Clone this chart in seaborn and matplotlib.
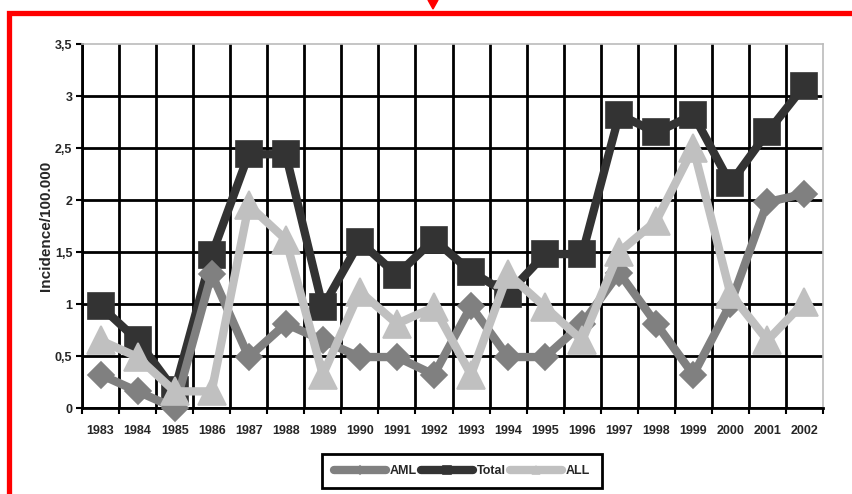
import numpy as np
import pandas as pd
import matplotlib
matplotlib.use("Agg")
import matplotlib.pyplot as plt
import seaborn as sns
from matplotlib.patches import Rectangle, Polygon

# data
years = [str(y) for y in range(1983, 2003)]
aml = [0.32, 0.16, 0.0, 1.29, 0.49, 0.81, 0.65, 0.49, 0.49, 0.32,
       0.98, 0.49, 0.49, 0.81, 1.30, 0.81, 0.32, 1.0, 1.98, 2.06]
total = [0.98, 0.65, 0.17, 1.47, 2.44, 2.44, 0.97, 1.60, 1.28, 1.62,
         1.31, 1.10, 1.48, 1.48, 2.82, 2.65, 2.82, 2.16, 2.65, 3.10]
all_ = [0.65, 0.49, 0.16, 0.16, 1.95, 1.62, 0.32, 1.12, 0.81, 0.97,
        0.32, 1.29, 0.97, 0.65, 1.50, 1.80, 2.50, 1.10, 0.65, 1.02]
y_ticks = [0, 0.5, 1, 1.5, 2, 2.5, 3, 3.5]
y_labels = ["0", "0,5", "1", "1,5", "2", "2,5", "3", "3,5"]

df = pd.DataFrame({"pos": np.arange(len(years)), "AML": aml, "Total": total, "ALL": all_})

sns.set_style("white")
plt.rcParams['font.family'] = ['Liberation Sans', 'DejaVu Sans']
plt.rcParams['font.weight'] = 'bold'

fig = plt.figure(figsize=(8.52, 4.94), dpi=100)
ax = fig.add_axes([82 / 852, 86 / 494, 741 / 852, 364 / 494])

# series: name, colour, marker, marker size, zorder
series = [
    ("Total", "#333333", "s", 18.5, 3),
    ("AML", "#808080", "D", 13.5, 4),
    ("ALL", "#c0c0c0", "^", 19.5, 5),
]
for name, col, mk, ms, z in series:
    sns.lineplot(data=df, x="pos", y=name, ax=ax, color=col, lw=5, label=name,
                 marker=mk, markersize=ms, markeredgecolor=col,
                 markerfacecolor=col, zorder=z, clip_on=False)
for ln in ax.lines:
    ln.set_solid_joinstyle('round')
    ln.set_markeredgewidth(1.2)

ax.set_xlim(-0.5, len(years) - 0.5)
ax.set_ylim(0, 3.5)

# grid at category boundaries, labels at centres
ax.set_xticks(np.arange(-0.5, len(years), 1.0))
ax.set_xticklabels([])
ax.set_xticks(np.arange(len(years)), minor=True)
ax.set_xticklabels(years, minor=True, fontsize=9, fontweight='bold')
ax.tick_params(axis='x', which='minor', length=0, pad=12)
ax.tick_params(axis='x', which='major', length=4, width=1.5, direction='out',
               bottom=True, color='black')
ax.set_yticks(y_ticks)
ax.set_yticklabels(y_labels, fontsize=9, fontweight='bold')
ax.tick_params(axis='y', length=4, width=1.5, direction='out', left=True,
               color='black', pad=3)

ax.grid(True, which='major', color='black', lw=2)
ax.set_axisbelow(True)
ax.yaxis.get_gridlines()[-1].set_visible(False)
ax.xaxis.get_gridlines()[-1].set_visible(False)
ax.set_xlabel("")
ax.set_ylabel("Incidence/100.000", fontsize=11, fontweight='bold', labelpad=1)

for side in ["top", "right"]:
    ax.spines[side].set_color("#bbbbbb")
    ax.spines[side].set_linewidth(1.2)
ax.spines["left"].set_color("black")
ax.spines["left"].set_linewidth(2)
ax.spines["bottom"].set_color("black")
ax.spines["bottom"].set_linewidth(2)

# legend in the order of the original
handles, labels = ax.get_legend_handles_labels()
ax.get_legend().remove()
order = [labels.index(n) for n in ["AML", "Total", "ALL"]]
for h in handles:
    h.set_solid_capstyle('round')
    h.set_linewidth(6)
leg = fig.legend([handles[i] for i in order], ["AML", "Total", "ALL"],
                 loc='center', bbox_to_anchor=(462 / 852, 1 - 471 / 494),
                 ncol=3, prop={'weight': 'bold', 'size': 9},
                 handlelength=4.2, handletextpad=0.3, columnspacing=0.3,
                 markerscale=0.3, frameon=True, fancybox=False, framealpha=1,
                 borderpad=0.9, borderaxespad=0)
leg.get_frame().set_edgecolor('black')
leg.get_frame().set_linewidth(2)

# red frame and arrow around the chart
fig.patches.append(Rectangle((9 / 852, -0.1), 1.2, (1 - 12.5 / 494) + 0.1,
                             transform=fig.transFigure, fill=False,
                             edgecolor='red', lw=3.8))
fig.patches.append(Polygon([(428 / 852, 1.0), (438 / 852, 1.0), (433 / 852, 1 - 9 / 494)],
                           closed=True, transform=fig.transFigure,
                           facecolor='red', edgecolor='red'))

fig.savefig("out.png", dpi=100)
